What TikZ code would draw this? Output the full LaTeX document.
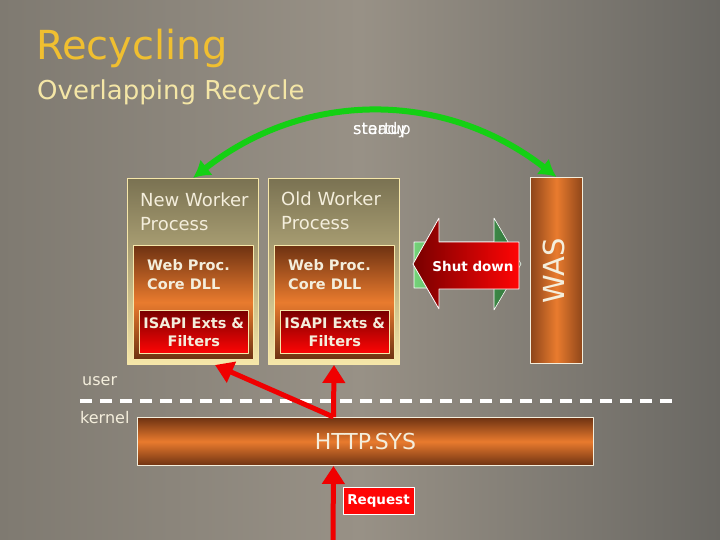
\documentclass[tikz,border=0pt]{standalone}
\usepackage{fontspec}
\setmainfont{DejaVu Sans}
\usetikzlibrary{positioning, arrows.meta}

\definecolor{bgleft}{HTML}{7F7A71}
\definecolor{bgmid}{HTML}{989186}
\definecolor{bgright}{HTML}{6A6863}
\definecolor{titleyel}{HTML}{F0BF30}
\definecolor{subyel}{HTML}{F4E6A6}
\definecolor{olivetop}{HTML}{7A7252}
\definecolor{paleyel}{HTML}{F6E7A9}
\definecolor{rustbrown}{HTML}{6E3212}
\definecolor{wasedge}{HTML}{8E461A}
\definecolor{burnt}{HTML}{E97B2E}
\definecolor{maroon}{HTML}{780000}
\definecolor{hotred}{HTML}{FF0505}
\definecolor{arrowred}{HTML}{F00000}
\definecolor{grnarc}{HTML}{14D014}
\definecolor{lightgrn}{HTML}{74D279}
\definecolor{darkgrn}{HTML}{2A6E35}
\definecolor{cream}{HTML}{F4EEDC}

\tikzset{
  worker/.style={draw=paleyel, line width=1pt, top color=olivetop, bottom color=paleyel,
    minimum width=131pt, minimum height=186pt, anchor=north west, inner sep=0pt},
  wtitle/.style={align=left, inner sep=0pt, text=cream, font=\fontsize{18}{24}\selectfont},
  core/.style={draw=paleyel, line width=0.6pt, top color=rustbrown, bottom color=rustbrown,
    middle color=burnt, minimum width=120pt, minimum height=114pt, inner sep=0pt},
  coretext/.style={align=left, inner sep=0pt, text=cream, font=\bfseries\fontsize{14.5}{19}\selectfont},
  isapi/.style={draw=paleyel, line width=0.6pt, top color=maroon, bottom color=hotred,
    minimum width=109pt, minimum height=43pt, inner sep=0pt, align=center, text=cream,
    font=\bfseries\fontsize{14.5}{18}\selectfont},
  redarrow/.style={draw=arrowred, line width=5pt, -{Triangle[length=18pt,width=22pt]}},
  lbl/.style={inner sep=0pt, anchor=base west, text=cream}
}

\begin{document}
\begin{tikzpicture}[x=1pt, y=-1pt, line join=bevel]
  % background
  \shade[left color=bgleft, right color=bgright, middle color=bgmid] (0,0) rectangle (720,540);
  \useasboundingbox (0,0) rectangle (720,540);
  %
  \node[lbl, text=titleyel, font=\fontsize{40}{48}\selectfont] (title) at (36,60) {Recycling};
  \node[lbl, text=subyel, font=\fontsize{26}{30}\selectfont] (subtitle) at (37,100) {Overlapping Recycle};
  %
  \node[worker] (neww) at (127,178) {};
  \node[wtitle, below right=15pt and 13pt of neww.north west] (newwt) {New Worker\\Process};
  \node[core, below right=67pt and 6pt of neww.north west] (newcore) {};
  \node[coretext, below right=14pt and 14pt of newcore.north west] (newcoret) {Web Proc.\\Core DLL};
  \node[isapi, below right=65pt and 6pt of newcore.north west] (newisapi) {ISAPI Exts \&\\Filters};
  %
  \node[worker] (oldw) at (268,178) {};
  \node[wtitle, below right=14pt and 13pt of oldw.north west] (oldwt) {Old Worker\\Process};
  \node[core, below right=67pt and 6pt of oldw.north west] (oldcore) {};
  \node[coretext, below right=14pt and 14pt of oldcore.north west] (oldcoret) {Web Proc.\\Core DLL};
  \node[isapi, below right=65pt and 6pt of oldcore.north west] (oldisapi) {ISAPI Exts \&\\Filters};
  %
  \node[draw=cream, line width=1pt, left color=wasedge, right color=wasedge, middle color=burnt,
    minimum width=52pt, minimum height=186pt, anchor=north west, inner sep=0pt] (was) at (530,177) {};
  \node[rotate=90, text=cream, inner sep=0pt, font=\fontsize{29}{32}\selectfont] (wast) at ([xshift=-3pt]was.center) {WAS};
  %
  % green block arrow behind, red one in front
  \path[draw=white, line width=0.6pt, left color=lightgrn, right color=darkgrn]
    (414,242) -- (494,242) -- (494,218) -- (521,264) -- (494,310) -- (494,288) -- (414,288) -- cycle;
  \path[draw=white, line width=0.8pt, left color=maroon, right color=hotred]
    (519,242) -- (439,242) -- (439,218) -- (413,264) -- (439,309) -- (439,289) -- (519,289) -- cycle;
  \node[text=white, inner sep=0pt, font=\bfseries\fontsize{13.5}{16}\selectfont] (shut) at (473,266) {Shut down};
  %
  \draw[grnarc, line width=6pt, {Latex[length=17pt,width=20pt]}-{Latex[length=17pt,width=20pt]}]
    (was.north) to[bend right=38] (neww.north);
  \node[lbl, text=white, font=\fontsize{16}{18}\selectfont] (startup) at (353,135) {startup};
  \node[lbl, text=white, font=\fontsize{16}{18}\selectfont] (steady) at (353,135) {steady};
  %
  \node[lbl, font=\fontsize{16}{18}\selectfont] (user) at (82,385) {user};
  \node[lbl, font=\fontsize{16}{18}\selectfont] (kernel) at (80,423) {kernel};
  \coordinate (sepl) at (80,401);
  \coordinate (sepr) at (672,401);
  \draw[white, line width=3.5pt, dash pattern=on 12pt off 8pt] (sepl) -- (sepr);
  %
  \node[draw=cream, line width=1pt, top color=rustbrown, bottom color=rustbrown, middle color=burnt,
    minimum width=456pt, minimum height=48pt, anchor=north west, inner sep=0pt, text=cream,
    font=\fontsize{22}{24}\selectfont] (http) at (137,417) {HTTP.SYS};
  \node[draw=white, line width=1pt, fill=hotred, minimum width=71pt, minimum height=27pt, inner sep=0pt,
    text=white, font=\bfseries\fontsize{13.5}{16}\selectfont] (req) at (378.5,500.5) {Request};
  %
  \coordinate (fork) at ([xshift=-32pt]http.north);
  \coordinate (reqfoot) at (333,540);
  \draw[redarrow] (fork) -- (oldw.south);
  \draw[redarrow] (fork) -- ([xshift=22pt]neww.south);
  \draw[redarrow] (reqfoot) -- (fork |- http.south);
\end{tikzpicture}
\end{document}
